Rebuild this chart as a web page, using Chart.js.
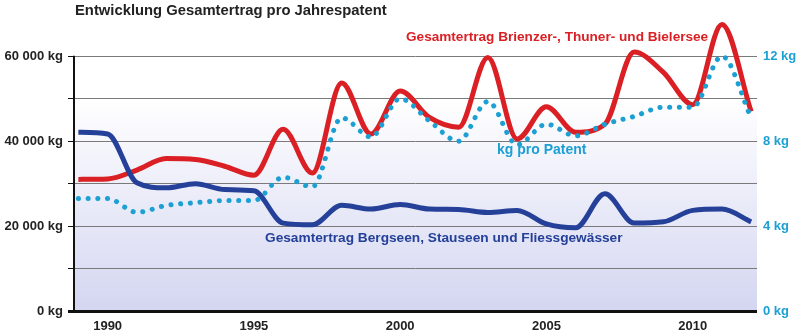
<!DOCTYPE html>
<html>
<head>
<meta charset="utf-8">
<script src="https://cdn.jsdelivr.net/npm/chart.js@4/dist/chart.umd.min.js"></script>
<style>
  html, body { margin: 0; padding: 0; background: #fff; }
  #wrap { width: 800px; height: 332px; }
</style>
</head>
<body>
<div id="wrap"><canvas id="ertragChart"></canvas></div>
<script>
const years = [1989, 1990, 1991, 1992, 1993, 1994, 1995, 1996, 1997, 1998, 1999, 2000,
               2001, 2002, 2003, 2004, 2005, 2006, 2007, 2008, 2009, 2010, 2011, 2012];
// Gesamtertrag in kg
const brienzThunBiel = [31000, 31100, 33200, 35900, 35700, 34100, 32000, 42800, 32500, 53700, 41700, 51800,
                        45600, 43300, 59700, 40500, 48100, 42100, 44000, 61000, 56200, 48600, 67500, 47000];
const bergseen = [42100, 41700, 30200, 29000, 30000, 28600, 28300, 20700, 20300, 24900, 24000, 25100,
                  24000, 23900, 23200, 23700, 20500, 19600, 27600, 20700, 21000, 23700, 24000, 21000];
// kg pro Patent
const kgProPatent = [5.3, 5.3, 4.65, 4.97, 5.1, 5.2, 5.2, 6.3, 5.85, 9.1, 8.2, 10.0,
                     8.95, 8.0, 9.87, 7.83, 8.8, 8.25, 8.8, 9.17, 9.6, 9.6, 12.0, 9.1];
const yearTicks = [1990, 1995, 2000, 2005, 2010];

const RED = 'rgb(218,32,36)';
const BLUE = 'rgb(36,64,152)';
const CYAN = 'rgb(28,160,212)';
const FONT = '"Liberation Sans", Arial, Helvetica, sans-serif';

const pts = vals => years.map((yr, i) => ({ x: yr, y: vals[i] }));

// background gradient, left axis line and free text labels
const decor = {
  id: 'decor',
  beforeDraw(chart) {
    const { ctx, chartArea: a, scales: { y } } = chart;
    const top = y.getPixelForValue(60000);
    const g = ctx.createLinearGradient(0, y.getPixelForValue(50000), 0, a.bottom);
    g.addColorStop(0, 'rgba(255,255,255,1)');
    g.addColorStop(1, 'rgb(212,214,241)');
    ctx.save();
    ctx.fillStyle = g;
    ctx.fillRect(a.left, top, a.right - a.left, a.bottom - top);
    ctx.restore();
  },
  afterDraw(chart) {
    const { ctx, chartArea: a, scales: { y } } = chart;
    ctx.save();
    ctx.strokeStyle = '#111';
    ctx.lineWidth = 2;
    ctx.beginPath();
    ctx.moveTo(a.left, y.getPixelForValue(60000) - 0.5);
    ctx.lineTo(a.left, a.bottom);
    ctx.stroke();

    ctx.textBaseline = 'middle';
    ctx.textAlign = 'left';
    ctx.fillStyle = '#222';
    ctx.font = 'bold 14.8px ' + FONT;
    ctx.fillText('Entwicklung Gesamtertrag pro Jahrespatent', 75, 11);
    ctx.font = 'bold 13.6px ' + FONT;
    ctx.fillStyle = RED;
    ctx.fillText('Gesamtertrag Brienzer-, Thuner- und Bielersee', 406, 37);
    ctx.font = 'bold 14px ' + FONT;
    ctx.fillStyle = CYAN;
    ctx.fillText('kg pro Patent', 497, 150);
    ctx.font = 'bold 13.7px ' + FONT;
    ctx.fillStyle = BLUE;
    ctx.fillText('Gesamtertrag Bergseen, Stauseen und Fliessgewässer', 265, 238);
    ctx.restore();
  }
};

const lineStyle = {
  borderWidth: 5,
  pointRadius: 0,
  cubicInterpolationMode: 'monotone'
};

new Chart(document.getElementById('ertragChart'), {
  type: 'line',
  data: {
    datasets: [
      {
        ...lineStyle,
        label: 'kg pro Patent',
        data: pts(kgProPatent),
        yAxisID: 'y1',
        borderColor: CYAN,
        borderDash: [0.1, 9.6],
        borderCapStyle: 'round',
        order: 0
      },
      {
        ...lineStyle,
        label: 'Gesamtertrag Bergseen, Stauseen und Fliessgewässer',
        data: pts(bergseen),
        borderColor: BLUE,
        order: 1
      },
      {
        ...lineStyle,
        label: 'Gesamtertrag Brienzer-, Thuner- und Bielersee',
        data: pts(brienzThunBiel),
        borderColor: RED,
        order: 2
      }
    ]
  },
  options: {
    responsive: true,
    maintainAspectRatio: false,
    animation: false,
    layout: { padding: { top: 7 } },
    plugins: { legend: { display: false }, tooltip: { enabled: false } },
    scales: {
      x: {
        type: 'linear',
        min: 1988.85,
        max: 2012.2,
        afterBuildTicks: s => { s.ticks = yearTicks.map(v => ({ value: v })); },
        afterFit: s => { s.height = 21; },
        grid: { display: false, drawTicks: false },
        border: { display: false },
        ticks: {
          padding: 8,
          color: '#222',
          font: { family: FONT, size: 13, weight: 'bold' },
          callback: v => String(v)
        }
      },
      y: {
        position: 'left',
        min: 0,
        max: 70000,
        afterFit: s => { s.width = 74; },
        border: { display: false },
        grid: {
          tickLength: 6,
          color: c => c.tick.value === 0 ? '#111' : (c.tick.value > 60000 ? 'rgba(0,0,0,0)' : '#7a7a7a'),
          lineWidth: c => c.tick.value === 0 ? 3 : 1,
          tickColor: c => c.tick.value > 60000 ? 'rgba(0,0,0,0)' : '#111'
        },
        ticks: {
          stepSize: 10000,
          padding: 5,
          color: '#222',
          font: { family: FONT, size: 13, weight: 'bold' },
          callback: v => (v % 20000 === 0 && v <= 60000) ? (v === 0 ? '0 kg' : (v / 1000) + ' 000 kg') : ''
        }
      },
      y1: {
        position: 'right',
        min: 0,
        max: 14,
        afterFit: s => { s.width = 43; },
        border: { display: false },
        grid: { display: false, drawTicks: false },
        ticks: {
          stepSize: 2,
          padding: 6,
          color: CYAN,
          font: { family: FONT, size: 13, weight: 'bold' },
          callback: v => (v % 4 === 0 && v <= 12) ? v + ' kg' : ''
        }
      }
    }
  },
  plugins: [decor]
});
</script>
</body>
</html>
